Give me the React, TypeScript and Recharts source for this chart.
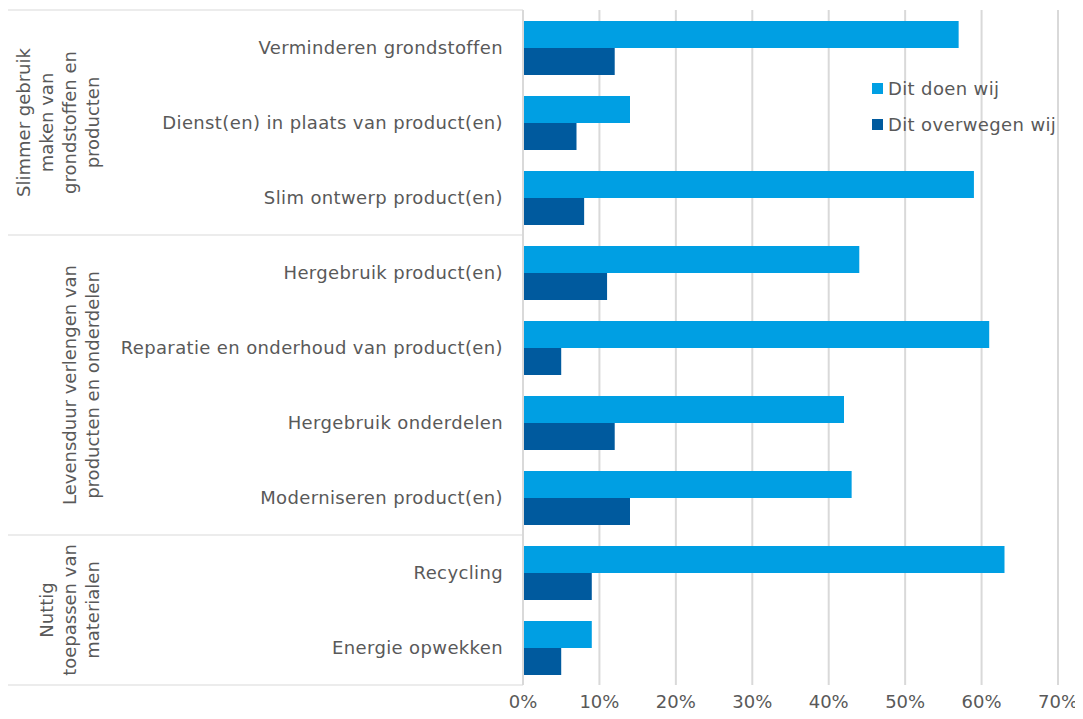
import React from 'react';
import { BarChart, Bar, XAxis, YAxis, CartesianGrid, Legend } from 'recharts';

const categories = [
  'Verminderen grondstoffen',
  'Dienst(en) in plaats van product(en)',
  'Slim ontwerp product(en)',
  'Hergebruik product(en)',
  'Reparatie en onderhoud van product(en)',
  'Hergebruik onderdelen',
  'Moderniseren product(en)',
  'Recycling',
  'Energie opwekken',
];
const doenWij = [57, 14, 59, 44, 61, 42, 43, 63, 9];
const overwegenWij = [12, 7, 8, 11, 5, 12, 14, 9, 5];
const groupLabels = [
  ['Slimmer gebruik', 'maken van', 'grondstoffen en', 'producten'],
  ['Levensduur verlengen van', 'producten en onderdelen'],
  ['Nuttig', 'toepassen van', 'materialen'],
];
const groupSizes = [3, 4, 2];
const xTicks = [0, 10, 20, 30, 40, 50, 60, 70];

const LIGHT = '#009FE3';
const DARK = '#005A9E';
const TEXT = '#595959';
const LINE = '#D9D9D9';
const FONT = '"DejaVu Sans", Verdana, sans-serif';

const data = categories.map((name, i) => ({ name, doen: doenWij[i], overwegen: overwegenWij[i] }));

// group starts, derived from sizes
const groupStarts = groupSizes.map((_, g) => groupSizes.slice(0, g).reduce((a, b) => a + b, 0));

const PLOT_H = 675;
const BAND = PLOT_H / categories.length;
const AXIS_X = 515;

function CategoryTick(props: any) {
  const { x, y, payload } = props;
  const idx = categories.indexOf(payload.value);
  const g = groupStarts.indexOf(idx);
  const bandTop = y - BAND / 2;
  const parts: React.ReactNode[] = [];
  if (g >= 0) {
    parts.push(<line key="sep" x1={0} x2={AXIS_X} y1={bandTop} y2={bandTop} stroke={LINE} strokeWidth={1} />);
    const lines = groupLabels[g];
    const cy = bandTop + (groupSizes[g] * BAND) / 2;
    lines.forEach((t, li) => {
      const lx = 84 - (lines.length - 1 - li) * 23;
      parts.push(
        <text
          key={'g' + li}
          x={lx}
          y={cy}
          transform={`rotate(-90, ${lx}, ${cy})`}
          textAnchor="middle"
          dominantBaseline="central"
          fill={TEXT}
          fontSize={18}
          fontFamily={FONT}
        >
          {t}
        </text>
      );
    });
  }
  if (idx === categories.length - 1) {
    parts.push(<line key="end" x1={0} x2={AXIS_X} y1={y + BAND / 2} y2={y + BAND / 2} stroke={LINE} strokeWidth={1} />);
  }
  return (
    <g>
      {parts}
      <text
        x={x}
        y={y}
        textAnchor="end"
        dominantBaseline="central"
        fill={TEXT}
        fontSize={18}
        fontFamily={FONT}
        letterSpacing={0.37}
      >
        {payload.value}
      </text>
    </g>
  );
}

function LegendContent() {
  const items = [
    { label: 'Dit doen wij', color: LIGHT },
    { label: 'Dit overwegen wij', color: DARK },
  ];
  return (
    <div style={{ fontFamily: FONT, fontSize: 18, color: TEXT, letterSpacing: 0.37 }}>
      {items.map((it) => (
        <div key={it.label} style={{ display: 'flex', alignItems: 'center', height: 36, whiteSpace: 'nowrap' }}>
          <span style={{ display: 'inline-block', width: 11, height: 11, background: it.color, marginRight: 5 }} />
          <span>{it.label}</span>
        </div>
      ))}
    </div>
  );
}

export default function App() {
  return (
    <div style={{ fontFamily: FONT }}>
      <BarChart
        width={1075}
        height={711}
        data={data}
        layout="vertical"
        margin={{ top: 2, right: 25, bottom: 0, left: 0 }}
        barGap={0}
        barCategoryGap="14%"
      >
        <CartesianGrid horizontal={false} stroke={LINE} strokeWidth={2} />
        <XAxis
          type="number"
          domain={[0, 70]}
          ticks={xTicks}
          tickFormatter={(v) => `${v}%`}
          axisLine={false}
          tickLine={false}
          tickMargin={4}
          height={34}
          tick={{ fill: TEXT, fontSize: 18, fontFamily: FONT }}
        />
        <YAxis
          type="category"
          dataKey="name"
          width={AXIS_X}
          axisLine={{ stroke: LINE, strokeWidth: 2 }}
          tickLine={false}
          tickMargin={14}
          interval={0}
          tick={<CategoryTick />}
        />
        <Legend
          layout="vertical"
          align="center"
          verticalAlign="middle"
          content={<LegendContent />}
          wrapperStyle={{ left: 864, top: 62, width: 'auto', height: 'auto' }}
        />
        <Bar dataKey="doen" name="Dit doen wij" fill={LIGHT} barSize={27} isAnimationActive={false} />
        <Bar dataKey="overwegen" name="Dit overwegen wij" fill={DARK} barSize={27} isAnimationActive={false} />
      </BarChart>
    </div>
  );
}
